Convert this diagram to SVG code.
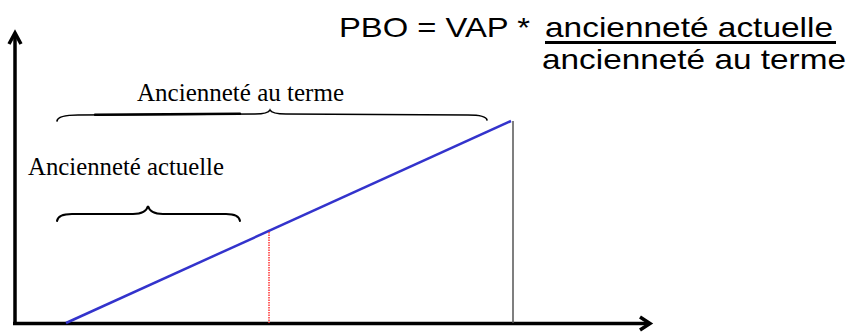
<svg xmlns="http://www.w3.org/2000/svg" width="853" height="332" viewBox="0 0 853 332">
<style>
.serif{font-family:"Liberation Serif","Times New Roman",serif;font-size:24.5px;fill:#000}
.sans{font-family:"Liberation Sans",Arial,sans-serif;font-size:28.5px;fill:#000}
.axis{stroke:#000;stroke-width:3.5;fill:none}
.brace{stroke:#000;fill:none;stroke-linecap:round}
</style>
<rect width="853" height="332" fill="#fff"/>
<g id="connectors">
<line x1="15" y1="325" x2="15" y2="35" class="axis"/>
<polyline points="9,44 15,33 21,44" class="axis"/>
<line x1="13" y1="323.5" x2="648" y2="323.5" class="axis"/>
<polyline points="640,317 650,323.5 640,330" class="axis"/>
<line x1="66" y1="323" x2="511" y2="121" stroke="#3333cc" stroke-width="2.5"/>
<line x1="513" y1="121" x2="513" y2="323" stroke="#555" stroke-width="1.5"/>
<line x1="269" y1="232" x2="269" y2="323" stroke="#ff3333" stroke-width="1.5" stroke-dasharray="1.5,1"/>
</g>
<g id="brace-terme">
<path class="brace" stroke-width="1.6" d="M57,121 Q58,115 78,115 L255,114 Q268,114 270,110 Q272,114 286,114 L468,115 Q486,115 487,120"/>
<path class="brace" stroke-width="2.4" d="M95,114.7 L240,113.8"/>
</g>
<g id="brace-actuelle">
<path class="brace" stroke-width="2" d="M57,221 Q58,214 72,214 L133,214 Q146,214 148,206 Q150,214 163,214 L226,214 Q239,214 240,221"/>
</g>
<g id="label-terme">
<text class="serif" x="137" y="101" textLength="207" lengthAdjust="spacingAndGlyphs">Ancienneté au terme</text>
</g>
<g id="label-actuelle">
<text class="serif" x="28" y="175" textLength="196" lengthAdjust="spacingAndGlyphs">Ancienneté actuelle</text>
</g>
<g id="formula">
<text class="sans" x="339" y="37" textLength="191" lengthAdjust="spacingAndGlyphs">PBO = VAP *</text>
<text class="sans" x="545" y="37" textLength="288" lengthAdjust="spacingAndGlyphs">ancienneté actuelle</text>
<line x1="545" y1="42.5" x2="836" y2="42.5" stroke="#000" stroke-width="3"/>
<text class="sans" x="542" y="69" textLength="304" lengthAdjust="spacingAndGlyphs">ancienneté au terme</text>
</g>
</svg>
